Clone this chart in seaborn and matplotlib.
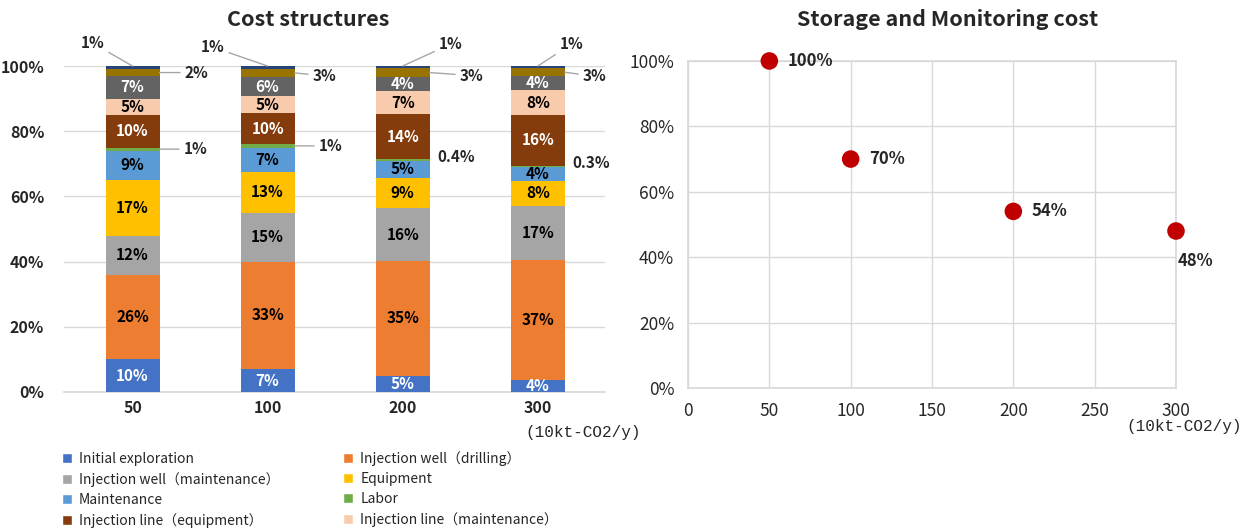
import matplotlib
matplotlib.use('Agg')
import matplotlib.pyplot as plt
from matplotlib.patches import Patch
import numpy as np
import pandas as pd
import seaborn as sns

sns.set_theme(style='white')
plt.rcParams['font.family'] = ['Noto Sans CJK JP', 'DejaVu Sans']
plt.rcParams['axes.unicode_minus'] = False

# ---- data ----
scales = ['50', '100', '200', '300']
items = ['Initial exploration', 'Injection well（drilling）', 'Injection well（maintenance）',
         'Equipment', 'Maintenance', 'Labor', 'Injection line（equipment）',
         'Injection line（maintenance）', 'Monitoring', 'Other', 'Misc']
colors = ['#4472C4', '#ED7D31', '#A5A5A5', '#FFC000', '#5B9BD5', '#70AD47',
          '#843C0C', '#F8CBAD', '#636363', '#997300', '#264478']

initial_exploration = [10, 7, 5, 3.7]
well_drilling = [26, 33, 35.2, 36.7]
well_maintenance = [12, 15, 16.2, 16.8]
equipment = [17, 12.6, 9.3, 7.6]
maintenance = [9, 7.4, 5.3, 4.3]
labor = [1, 1, 0.4, 0.3]
line_equipment = [10, 9.6, 13.9, 15.6]
line_maintenance = [5, 5.2, 7.0, 7.6]
monitoring = [7, 5.8, 4.4, 4.2]
other = [2, 2.6, 2.6, 2.6]
misc = [1, 0.8, 0.7, 0.6]

capacity = [50, 100, 200, 300]
storage_cost = [100, 70, 54, 48]

layers = [initial_exploration, well_drilling, well_maintenance, equipment, maintenance,
          labor, line_equipment, line_maintenance, monitoring, other, misc]
white_text = [0, 6, 8]
outside = [5, 9, 10]

vals = np.array(layers, dtype=float)
cum = vals.cumsum(axis=0)

fig = plt.figure(figsize=(12.48, 5.3), dpi=100)
ax1 = fig.add_axes([0.051, 0.2604, 0.434, 0.615])
ax2 = fig.add_axes([0.5513, 0.268, 0.391, 0.617])

# ---- stacked bars (draw cumulative from top down) ----
for i in reversed(range(len(layers))):
    df = pd.DataFrame({'scale': scales, 'value': cum[i]})
    sns.barplot(data=df, x='scale', y='value', color=colors[i], width=0.4,
                saturation=1, ax=ax1, zorder=3, linewidth=0)

for i in range(len(layers)):
    for j in range(len(scales)):
        v = vals[i, j]
        mid = cum[i, j] - v / 2
        if i in outside:
            continue
        c = 'white' if i in white_text else 'black'
        ax1.text(j, mid, f'{v:.0f}%', ha='center', va='center', color=c,
                 fontsize=11, fontweight='bold', zorder=5)

lead = dict(arrowstyle='-', color='#A6A6A6', lw=1, shrinkA=1, shrinkB=0)
# top segment labels
top_off = [(-40, 23), (-55, 19), (48, 22), (34, 22)]
for j in range(4):
    ax1.annotate(f'{vals[10, j]:.0f}%', xy=(j, 100), xytext=top_off[j],
                 textcoords='offset pixels', ha='center', va='center',
                 fontsize=11, fontweight='bold', arrowprops=lead)
gold_off = [(37, 0), (30, -3), (42, -3), (30, -4)]
for j in range(4):
    y = cum[9, j] - vals[9, j] / 2
    ax1.annotate(f'{vals[9, j]:.0f}%', xy=(j + 0.2, y), xytext=gold_off[j],
                 textcoords='offset pixels', ha='center', va='center',
                 fontsize=11, fontweight='bold', arrowprops=lead)
for j in range(4):
    y = cum[5, j] - vals[5, j] / 2
    v = vals[5, j]
    if v >= 1:
        ax1.annotate(f'{v:.0f}%', xy=(j + 0.2, y), xytext=(36, 0),
                     textcoords='offset pixels', ha='center', va='center',
                     fontsize=11, fontweight='bold', arrowprops=lead)
    else:
        ax1.annotate(f'{v:.1f}%', xy=(j + 0.2, y), xytext=(26, 3),
                     textcoords='offset pixels', ha='center', va='center',
                     fontsize=11, fontweight='bold')

ax1.set_ylim(0, 100)
ax1.set_xlim(-0.51, 3.5)
ax1.set_yticks(range(0, 101, 20))
ax1.set_yticklabels([f'{t}%' for t in range(0, 101, 20)])
ax1.yaxis.grid(True, color='#D9D9D9', lw=1, zorder=0)
ax1.set_axisbelow(True)
for s in ['left', 'right', 'top']:
    ax1.spines[s].set_visible(False)
ax1.spines['bottom'].set_color('#D9D9D9')
ax1.set_xlabel('')
ax1.set_ylabel('')
ax1.tick_params(axis='both', length=0, labelsize=11.5)
ax1.tick_params(axis='x', pad=6)
ax1.tick_params(axis='y', pad=14)
for lab in ax1.get_xticklabels() + ax1.get_yticklabels():
    lab.set_fontweight('bold')

# ---- scatter ----
sdf = pd.DataFrame({'capacity': capacity, 'cost': storage_cost})
sns.scatterplot(data=sdf, x='capacity', y='cost', color='#C00000', s=160,
                edgecolor='none', ax=ax2, zorder=4, clip_on=False)
for x, y in zip(capacity[:3], storage_cost[:3]):
    ax2.annotate(f'{y}%', xy=(x, y), xytext=(18, 0), textcoords='offset pixels',
                 ha='left', va='center', fontsize=12, fontweight='bold')
ax2.annotate(f'{storage_cost[3]}%', xy=(capacity[3], storage_cost[3]), xytext=(19, -30),
             textcoords='offset pixels', ha='center', va='center', fontsize=12,
             fontweight='bold', arrowprops=dict(arrowstyle='-', color='#A6A6A6', lw=1,
                                                 shrinkA=9, shrinkB=2))
ax2.set_xlim(0, 300)
ax2.set_ylim(0, 100)
ax2.set_xticks(range(0, 301, 50))
ax2.set_yticks(range(0, 101, 20))
ax2.set_yticklabels([f'{t}%' for t in range(0, 101, 20)])
ax2.grid(True, color='#D9D9D9', lw=1)
ax2.set_axisbelow(True)
for s in ax2.spines.values():
    s.set_color('#D9D9D9')
ax2.set_xlabel('')
ax2.set_ylabel('')
ax2.tick_params(axis='both', length=0, labelsize=12.5, pad=10)

fig.text(308 / 1248, 1 - 20 / 530, 'Cost structures', ha='center', va='center',
         fontsize=15.5, fontweight='bold')
fig.text(948 / 1248, 1 - 20 / 530, 'Storage and Monitoring cost', ha='center', va='center',
         fontsize=15.5, fontweight='bold')
fig.text(583 / 1248, 1 - 432 / 530, '(10kt-CO2/y)', ha='center', va='center',
         fontsize=11.5, family='Liberation Mono')
fig.text(1184 / 1248, 1 - 427 / 530, '(10kt-CO2/y)', ha='center', va='center',
         fontsize=11.5, family='Liberation Mono')

# legend filled row by row like the original
order = [0, 2, 4, 6, 1, 3, 5, 7]
handles = [Patch(facecolor=colors[i], label=items[i]) for i in order]
fig.legend(handles=handles, ncol=2, loc='lower left', bbox_to_anchor=(0.040, -0.020),
           frameon=False, fontsize=10, handlelength=0.7, handleheight=0.7,
           handletextpad=0.5, columnspacing=4.6, labelspacing=0.45)

fig.savefig('out.png', dpi=100)
